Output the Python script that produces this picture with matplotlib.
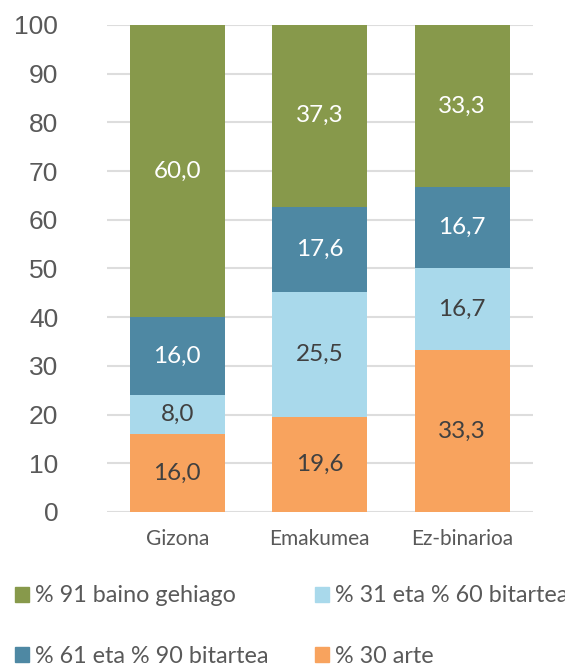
import numpy as np
import matplotlib.pyplot as plt
from matplotlib.patches import Patch

categories = ['Gizona', 'Emakumea', 'Ez-binarioa']
series_names = ['% 30 arte', '% 31 eta % 60 bitartea',
                '% 61 eta % 90 bitartea', '% 91 baino gehiago']
upto30 = [16.0, 19.6, 33.3]
from31to60 = [8.0, 25.5, 16.7]
from61to90 = [16.0, 17.6, 16.7]
over91 = [60.0, 37.3, 33.3]

colors = ['#F8A35E', '#A9D9EB', '#4E88A3', '#87994B']
text_colors = ['#404040', '#404040', 'white', 'white']

fig = plt.figure(figsize=(5.65, 6.69), dpi=100)
ax = fig.add_axes([0.189, 0.2347, 0.754, 0.728])

x = np.arange(len(categories))
bottom = np.zeros(len(categories))
for vals, col, tcol in zip([upto30, from31to60, from61to90, over91], colors, text_colors):
    vals = np.array(vals)
    bars = ax.bar(x, vals, bottom=bottom, width=0.667, color=col, zorder=2)
    for xi, b, v in zip(x, bottom, vals):
        ax.text(xi, b + v / 2, f'{v:.1f}'.replace('.', ','), ha='center', va='center',
                fontsize=17.5, color=tcol, family='Lato', zorder=3)
    bottom += vals

ax.set_xlim(-0.495, 2.495)
ax.set_ylim(0, 100)
ax.set_yticks(range(0, 101, 10))
ax.set_xticks(x)
ax.set_xticklabels(categories, family='Lato', fontsize=15, color='#595959')
ax.tick_params(axis='x', length=0, pad=12)
ax.tick_params(axis='y', length=0, pad=35, labelsize=19, labelcolor='#595959')
for lab in ax.get_yticklabels():
    lab.set_family('Liberation Sans')
ax.grid(axis='y', color='#DDDDDD', linewidth=1.5, zorder=0)
for s in ax.spines.values():
    s.set_visible(False)

# legend: two columns, filled column by column
order = [3, 2, 1, 0]
handles = [Patch(color=colors[i]) for i in order]
labels = [series_names[i] for i in order]
fig.legend(handles, labels, ncol=2, loc='upper left', bbox_to_anchor=(0.0265, 0.125),
           frameon=False, prop={'family': 'Lato', 'size': 16.8}, labelcolor='#595959',
           handlelength=0.6, handleheight=0.6, handletextpad=0.25,
           columnspacing=2.0, labelspacing=1.7, borderaxespad=0, borderpad=0)

fig.savefig('out.png', dpi=100)
